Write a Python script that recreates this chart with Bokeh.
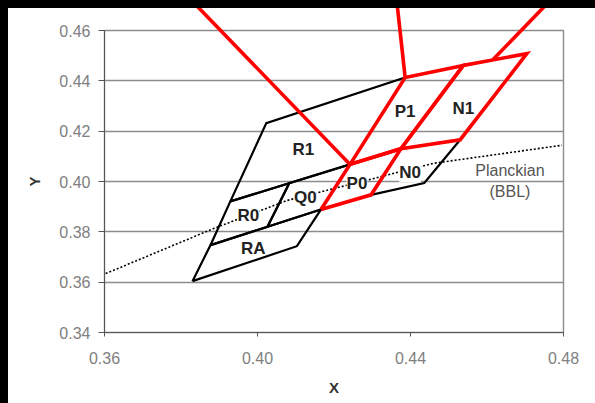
from bokeh.plotting import figure
from bokeh.models import ColumnDataSource, FixedTicker, NumeralTickFormatter
from bokeh.embed import file_html
from bokeh.resources import INLINE
from bokeh.core.properties import value

# ---- axis ticks ----
x_ticks = [0.36, 0.40, 0.44, 0.48]
y_ticks = [0.34, 0.36, 0.38, 0.40, 0.42, 0.44, 0.46]

# ---- bin corners (CIE x, y) ----
RA_x = [0.3830, 0.4103, 0.4166, 0.3877]
RA_y = [0.3604, 0.3743, 0.3889, 0.3747]
R0_x = [0.3877, 0.4026, 0.4083, 0.3929]
R0_y = [0.3747, 0.3820, 0.3993, 0.3921]
Q0_x = [0.4026, 0.4166, 0.4242, 0.4083]
Q0_y = [0.3820, 0.3889, 0.4068, 0.3993]
R1_x = [0.3929, 0.4242, 0.4386, 0.4023]
R1_y = [0.3921, 0.4068, 0.4413, 0.4232]
N0_x = [0.4297, 0.4436, 0.4530, 0.4375]
N0_y = [0.3947, 0.3994, 0.4166, 0.4130]
P0_x = [0.4166, 0.4297, 0.4375, 0.4242]
P0_y = [0.3889, 0.3947, 0.4130, 0.4068]
P1_x = [0.4242, 0.4375, 0.4538, 0.4386]
P1_y = [0.4068, 0.4130, 0.4461, 0.4413]
N1_x = [0.4375, 0.4530, 0.4704, 0.4538]
N1_y = [0.4130, 0.4166, 0.4508, 0.4461]

# ---- leader lines (start, end) ----
lead_x = [[0.4242, 0.3828], [0.4386, 0.4364], [0.4616, 0.4765]]
lead_y = [[0.4068, 0.4719], [0.4413, 0.4719], [0.4485, 0.4719]]

# ---- Planckian locus ----
planck_x = [0.3603, 0.3885, 0.4078, 0.4182, 0.4459, 0.4796]
planck_y = [0.3634, 0.3813, 0.3925, 0.3965, 0.4072, 0.4144]

# ---- bin labels ----
bin_names = ["R1", "R0", "Q0", "RA", "P0", "P1", "N1", "N0"]
bin_lx = [0.4120, 0.3976, 0.4125, 0.3989, 0.4260, 0.4386, 0.4538, 0.4399]
bin_ly = [0.4128, 0.3866, 0.3937, 0.3735, 0.3994, 0.4280, 0.4289, 0.4035]

planck_text = ["Planckian", "(BBL)"]
planck_tx = [0.4660, 0.4660]
planck_ty = [0.4044, 0.3961]

FONT = "Liberation Sans"

p = figure(width=595, height=403, x_range=(0.36, 0.48), y_range=(0.34, 0.46),
           output_backend="svg", toolbar_location=None,
           min_border_left=96, min_border_right=40, min_border_top=22, min_border_bottom=79,
           background_fill_color="white", border_fill_color="white",
           styles={"border-top": "8px solid #000000", "border-left": "8px solid #000000"})

p.xgrid.visible = False
p.ygrid.ticker = FixedTicker(ticks=y_ticks)
p.ygrid.grid_line_color = "#8c8c8c"
p.ygrid.grid_line_width = 1.4
p.outline_line_color = "#8c8c8c"
p.outline_line_width = 1.4

for ax, ticks in ((p.xaxis, x_ticks), (p.yaxis, y_ticks)):
    ax.ticker = FixedTicker(ticks=ticks)
    ax.formatter = NumeralTickFormatter(format="0.00")
    ax.minor_tick_line_color = None
    ax.axis_line_color = "#555555"
    ax.major_tick_line_color = "#555555"
    ax.major_tick_in = 0
    ax.major_label_text_font = FONT
    ax.major_label_text_font_size = "16px"
    ax.major_label_text_color = "#808080"
    ax.axis_label_text_font = FONT
    ax.axis_label_text_font_size = "15px"
    ax.axis_label_text_font_style = "bold"
    ax.axis_label_text_color = "#333333"

p.xaxis.major_tick_out = 4
p.yaxis.major_tick_out = 6
p.xaxis.major_label_standoff = 15
p.yaxis.major_label_standoff = 8
p.xaxis.axis_label = "X"
p.yaxis.axis_label = "Y"
p.xaxis.axis_label_standoff = 12
p.yaxis.axis_label_standoff = 13

# Planckian locus (dotted)
p.line(planck_x, planck_y, line_color="black", line_width=1.6, line_dash="2 2")

# bin labels with a white box that hides the dotted locus underneath
p.text(bin_lx, bin_ly, text=bin_names, text_font=value(FONT), text_font_size="17px",
       text_font_style="bold", text_color="#222222", text_align="center", text_baseline="middle",
       background_fill_color="white")
p.text(planck_tx, planck_ty, text=planck_text, text_font=value(FONT), text_font_size="16px",
       text_color="#555555", text_align="center", text_baseline="middle")

# black bins
black_src = ColumnDataSource(dict(
    xs=[RA_x + RA_x[:1], R0_x + R0_x[:1], Q0_x + Q0_x[:1], R1_x + R1_x[:1], N0_x + N0_x[:1]],
    ys=[RA_y + RA_y[:1], R0_y + R0_y[:1], Q0_y + Q0_y[:1], R1_y + R1_y[:1], N0_y + N0_y[:1]]))
p.multi_line("xs", "ys", source=black_src, line_color="black", line_width=2.2, line_join="miter")

# red bins
red_src = ColumnDataSource(dict(
    xs=[P0_x + P0_x[:1], P1_x + P1_x[:1], N1_x + N1_x[:1]],
    ys=[P0_y + P0_y[:1], P1_y + P1_y[:1], N1_y + N1_y[:1]]))
p.multi_line("xs", "ys", source=red_src, line_color="#ff0000", line_width=3.6, line_join="miter")

# leader lines, drawn beyond the frame
lead = p.multi_line(lead_x, lead_y, line_color="#ff0000", line_width=3.6)
lead.level = "overlay"

open("out.html", "w").write(file_html(p, INLINE, title="Chromaticity bins"))
